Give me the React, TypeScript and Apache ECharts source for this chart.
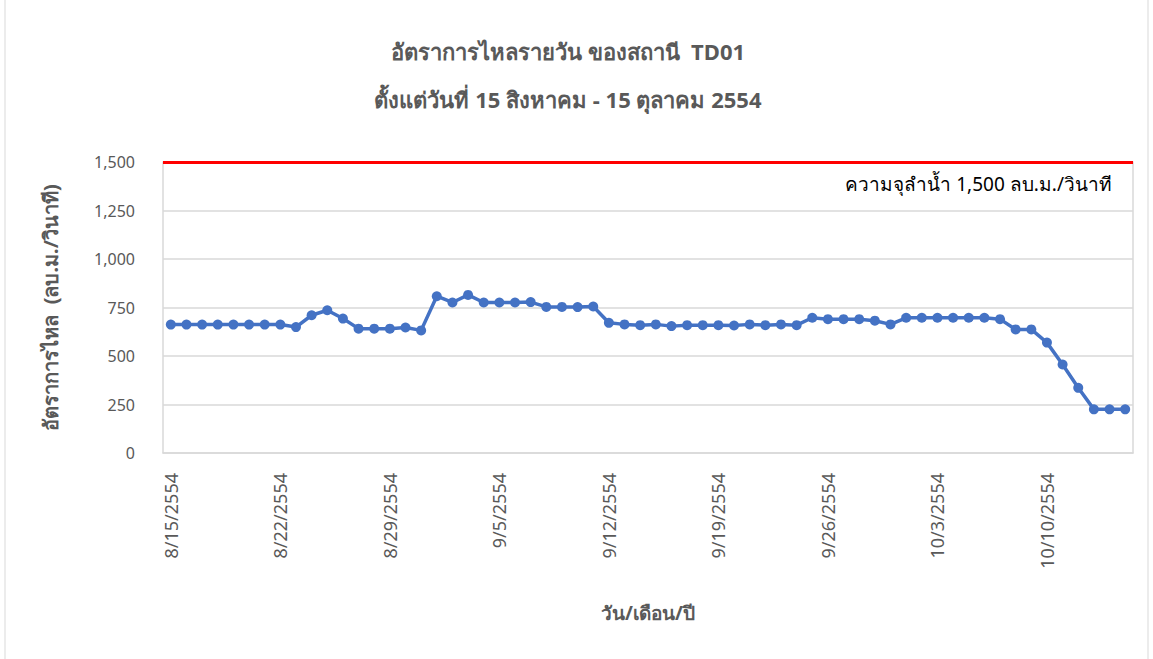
import React, { useEffect, useRef } from "react";
import * as echarts from "echarts";

const dates: string[] = [];
const monthDays: [number, number, number][] = [
  [8, 15, 31],
  [9, 1, 30],
  [10, 1, 15],
];
for (const [m, s, e] of monthDays) {
  for (let d = s; d <= e; d++) dates.push(`${m}/${d}/2554`);
}

const flow: number[] = [
  // 8/15 - 8/31
  662, 662, 662, 662, 662, 662, 662, 662, 649, 710, 736, 693, 641, 641, 641, 647, 632,
  // 9/1 - 9/30
  808, 776, 815, 776, 776, 776, 778, 753, 753, 752, 755, 671, 663, 659, 663, 654, 659, 659, 659, 657,
  663, 659, 663, 659, 697, 690, 690, 690, 682, 663,
  // 10/1 - 10/15
  697, 697, 697, 697, 697, 697, 690, 637, 637, 569, 456, 336, 225, 225, 225,
];

const capacity = 1500;
const titleLines = ["อัตราการไหลรายวัน ของสถานี  TD01", "ตั้งแต่วันที่ 15 สิงหาคม - 15 ตุลาคม 2554"];
const capacityLabel = "ความจุลำน้ำ 1,500 ลบ.ม./วินาที";
const yName = "อัตราการไหล  (ลบ.ม./วินาที)";
const xName = "วัน/เดือน/ปี";

const FONT = "'Noto Sans', 'DejaVu Sans', sans-serif";

export default function App() {
  const ref = useRef<HTMLDivElement>(null);
  useEffect(() => {
    if (!ref.current) return;
    const chart = echarts.init(ref.current, null, { renderer: "svg" });
    chart.setOption({
      animation: false,
      textStyle: { fontFamily: FONT },
      title: {
        text: titleLines.join("\n"),
        left: 563,
        top: 22,
        textAlign: "center",
        textStyle: {
          fontSize: 22,
          fontWeight: "bold",
          color: "#595959",
          lineHeight: 48,
          fontFamily: FONT,
        },
      },
      graphic: [
        {
          type: "rect",
          shape: { x: 5, y: -2, width: 1143, height: 664 },
          style: { fill: "none", stroke: "#d9d9d9", lineWidth: 1 },
          silent: true,
        },
        {
          type: "text",
          right: 41,
          top: 174,
          style: {
            text: capacityLabel,
            fontSize: 19,
            fill: "#000000",
            fontFamily: FONT,
          },
        },
      ],
      grid: { left: 163, right: 20, top: 162, bottom: 206 },
      xAxis: {
        type: "category",
        data: dates,
        boundaryGap: true,
        axisLine: { show: true, lineStyle: { color: "#d9d9d9", width: 1.5 } },
        axisTick: { show: false },
        axisLabel: {
          interval: 6,
          rotate: 90,
          margin: 20,
          fontSize: 18,
          color: "#595959",
          fontFamily: FONT,
        },
        name: xName,
        nameLocation: "middle",
        nameGap: 150,
        nameTextStyle: { fontSize: 19, fontWeight: "bold", color: "#595959", fontFamily: FONT },
      },
      yAxis: [
        {
          type: "value",
          min: 0,
          max: 1500,
          interval: 250,
          axisLine: { show: true, lineStyle: { color: "#d9d9d9", width: 1.5 } },
          axisTick: { show: false },
          splitLine: { lineStyle: { color: "#d9d9d9", width: 1.5 } },
          axisLabel: {
            margin: 28,
            fontSize: 16,
            color: "#595959",
            fontFamily: FONT,
            formatter: (v: number) => v.toLocaleString("en-US"),
          },
          name: yName,
          nameLocation: "middle",
          nameGap: 103,
          nameRotate: 90,
          nameTextStyle: { fontSize: 20, fontWeight: "bold", color: "#595959", fontFamily: FONT },
        },
        {
          type: "value",
          min: 0,
          max: 1500,
          interval: 250,
          position: "right",
          axisLine: { show: true, lineStyle: { color: "#d9d9d9", width: 1.5 } },
          axisTick: { show: false },
          axisLabel: { show: false },
          splitLine: { show: false },
        },
      ],
      series: [
        {
          type: "line",
          data: flow,
          symbol: "circle",
          symbolSize: 10,
          lineStyle: { color: "#4472C4", width: 3.5 },
          itemStyle: { color: "#4472C4" },
          markLine: {
            silent: true,
            symbol: "none",
            label: { show: false },
            lineStyle: { color: "#ff0000", width: 3, type: "solid" },
            data: [{ yAxis: capacity }],
          },
        },
      ],
    });
    return () => chart.dispose();
  }, []);
  return (
    <div
      ref={ref}
      style={{ position: "absolute", left: 0, top: 0, width: 1153, height: 659, background: "#fff" }}
    />
  );
}
